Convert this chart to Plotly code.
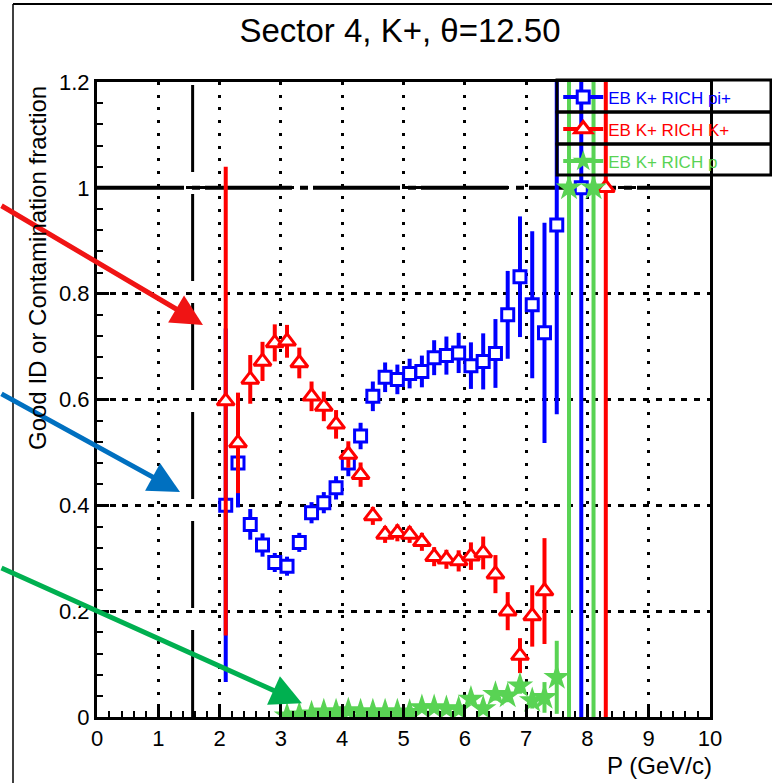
import plotly.graph_objects as go

# ---------------- data ----------------
P_GEV = [2.1, 2.3, 2.5, 2.7, 2.9, 3.1, 3.3, 3.5, 3.7, 3.9, 4.1, 4.3, 4.5, 4.7, 4.9, 5.1,
         5.3, 5.5, 5.7, 5.9, 6.1, 6.3, 6.5, 6.7, 6.9, 7.1, 7.3, 7.5, 7.7, 7.9, 8.1, 8.3]

PI_FRAC = [0.40, 0.48, 0.364, 0.325, 0.292, 0.285, 0.33, 0.386, 0.405, 0.433, 0.48, 0.531,
           0.606, 0.642, 0.638, 0.649, 0.653, 0.679, 0.683, 0.688, 0.664, 0.672, 0.687, 0.76,
           0.832, 0.779, 0.726, 0.93, None, 1.0, None, None]
PI_ERR = [0.334, 0.084, 0.029, 0.022, 0.018, 0.018, 0.018, 0.02, 0.02, 0.022, 0.025, 0.025,
          0.028, 0.028, 0.028, 0.028, 0.03, 0.033, 0.036, 0.038, 0.044, 0.053, 0.065, 0.083,
          0.114, 0.139, 0.208, 0.358, None, 1.0, None, None]

K_FRAC = [0.597, 0.518, 0.638, 0.672, 0.707, 0.71, 0.669, 0.606, 0.587, 0.553, 0.496, 0.458,
          0.38, 0.345, 0.348, 0.345, 0.331, 0.303, 0.298, 0.295, 0.304, 0.31, 0.27, 0.2,
          0.116, 0.191, 0.238, None, None, None, None, 1.0]
K_ERR = [0.443, 0.095, 0.046, 0.037, 0.035, 0.031, 0.029, 0.028, 0.028, 0.027, 0.025, 0.023,
         0.017, 0.016, 0.016, 0.016, 0.017, 0.018, 0.018, 0.02, 0.026, 0.031, 0.036, 0.036,
         0.033, 0.058, 0.1, None, None, None, None, 1.0]

PR_FRAC = [None, None, None, None, None, 0.002, 0.004, 0.006, 0.01, 0.01, 0.012, 0.01,
           0.01, 0.01, 0.01, 0.009, 0.018, 0.018, 0.016, 0.015, 0.034, 0.016, 0.043, 0.04,
           0.059, 0.031, 0.037, 0.075, 1.0, None, 1.0, None]
PR_ERR = [None, None, None, None, None, 0.004, 0.004, 0.004, 0.005, 0.005, 0.005, 0.005,
          0.005, 0.005, 0.005, 0.005, 0.006, 0.006, 0.006, 0.007, 0.01, 0.008, 0.012, 0.012,
          0.015, 0.015, 0.029, 0.069, 1.0, None, 1.0, None]

SERIES_NAMES = ["EB K+ RICH pi+", "EB K+ RICH K+", "EB K+ RICH p"]
UNITY_LEVEL = 1.0
THRESHOLD_P = 1.56
X_TICKS = list(range(0, 11))
TITLE = "Sector 4, K+, \u03b8=12.50"

# ---------------- layout constants ----------------
W, H = 772, 783
ML, MR, MT, MB = 97, 62, 82, 66
PW, PH = W - ML - MR, H - MT - MB
XR, YR = (0, 10), (0, 1.2)
FONT = "Liberation Sans, Arial, sans-serif"

BLUE, RED, GREEN = "#0000ff", "#ff0000", "#59d354"


def px_x(px):
    return (px - ML) / PW


def px_y(py):
    return (H - MB - py) / PH


fig = go.Figure()

# reference lines
fig.add_trace(go.Scatter(x=[XR[0], XR[1]], y=[UNITY_LEVEL, UNITY_LEVEL], mode="lines",
                         line=dict(color="black", width=4, dash="87px,8px,8px,5px"),
                         showlegend=False, hoverinfo="skip"))
fig.add_trace(go.Scatter(x=[THRESHOLD_P, THRESHOLD_P], y=[YR[0], YR[1]], mode="lines",
                         line=dict(color="black", width=3, dash="87px,22px"),
                         showlegend=False, hoverinfo="skip"))

STYLES = [
    (BLUE, "square", 12, "white", 3),
    (RED, "triangle-up", 15, "white", 3),
    (GREEN, "star", 20, GREEN, 0),
]


def add_series(y, err, style):
    color, symbol, size, fill, lw = style
    fig.add_trace(go.Scatter(
        x=P_GEV, y=y, mode="markers", showlegend=False,
        marker=dict(symbol=symbol, size=size, color=fill,
                    line=dict(color=color, width=lw)),
        error_y=dict(type="data", array=err, visible=True, thickness=4, width=0, color=color),
    ))


add_series(PI_FRAC, PI_ERR, STYLES[0])
add_series(K_FRAC, K_ERR, STYLES[1])
add_series(PR_FRAC, PR_ERR, STYLES[2])

# legend entries (text coloured like the series)
for name, (color, symbol, size, fill, lw) in zip(SERIES_NAMES, STYLES):
    fig.add_trace(go.Scatter(x=[None], y=[None], mode="lines+markers",
                             name=f'<span style="color:{color}">{name}</span>',
                             legendgroup=name,
                             line=dict(color=color, width=4),
                             marker=dict(symbol=symbol, size=size, color=fill,
                                         line=dict(color=color, width=lw))))

# legend boxes
LEG_X = (557, 771)
LEG_ROWS = [80, 112, 144, 175]
shapes = []
shapes.append(dict(type="rect", xref="x", yref="y", layer="between",
                   x0=px_x(LEG_X[0]) * XR[1], x1=XR[1],
                   y0=px_y(LEG_ROWS[-1]) * YR[1], y1=YR[1],
                   fillcolor="white", line=dict(width=0)))
for i in range(3):
    shapes.append(dict(type="rect", xref="paper", yref="paper", layer="above",
                       x0=px_x(LEG_X[0]), x1=px_x(LEG_X[1]),
                       y0=px_y(LEG_ROWS[i + 1]), y1=px_y(LEG_ROWS[i]),
                       line=dict(color="black", width=3)))
# canvas border lines
shapes.append(dict(type="line", xref="paper", yref="paper", layer="above",
                   x0=px_x(13), x1=px_x(W), y0=px_y(4), y1=px_y(4),
                   line=dict(color="black", width=2)))
shapes.append(dict(type="line", xref="paper", yref="paper", layer="above",
                   x0=px_x(13), x1=px_x(13), y0=px_y(4), y1=px_y(H),
                   line=dict(color="black", width=1.5)))

# arrows: tip in data coords, tail offset in px
ARROWS = [
    ("#f01414", 1.729, 0.741, -203, -120),
    ("#0070c0", 1.354, 0.425, -180, -99),
    ("#00b050", 3.344, 0.026, -302, -136),
]
annotations = []
for c, ax_x, ax_y, dx, dy in ARROWS:
    annotations.append(dict(x=ax_x, y=ax_y, xref="x", yref="y", ax=dx, ay=dy,
                            axref="pixel", ayref="pixel", text="", showarrow=True,
                            arrowhead=2, arrowsize=1.25, arrowwidth=5, arrowcolor=c))

annotations.append(dict(text="Good ID or Contamination fraction", textangle=-90,
                        xref="paper", yref="paper", x=px_x(37), y=px_y(268),
                        xanchor="center", yanchor="middle", showarrow=False,
                        font=dict(family=FONT, size=24, color="black")))
annotations.append(dict(text="P (GeV/c)", xref="paper", yref="paper", x=px_x(714),
                        y=px_y(765), xanchor="right", yanchor="middle", showarrow=False,
                        font=dict(family=FONT, size=24, color="black")))

fig.update_layout(
    width=W, height=H,
    margin=dict(l=ML, r=MR, t=MT, b=MB),
    paper_bgcolor="white", plot_bgcolor="white",
    font=dict(family=FONT, color="black"),
    title=dict(text=TITLE, x=px_x(400), xref="paper", xanchor="center",
               y=1 - 30 / H, yref="container", yanchor="middle",
               font=dict(family=FONT, size=33, color="black")),
    showlegend=True,
    legend=dict(x=px_x(LEG_X[0]) + 0.002, y=px_y(LEG_ROWS[0]) + 0.001,
                xanchor="left", yanchor="top",
                bgcolor="rgba(0,0,0,0)", borderwidth=0,
                font=dict(family=FONT, size=17), tracegroupgap=7,
                itemwidth=40, traceorder="grouped"),
    shapes=shapes, annotations=annotations,
)

fig.update_xaxes(range=list(XR), tickvals=X_TICKS, ticks="inside", ticklen=12, tickwidth=2.5,
                 tickcolor="black", showline=True, linewidth=3, linecolor="black", mirror=True,
                 showgrid=True, gridcolor="black", gridwidth=3, griddash="3px,9.7px",
                 zeroline=False, tickfont=dict(family=FONT, size=22),
                 minor=dict(dtick=0.2, ticks="inside", ticklen=6, tickwidth=2,
                            tickcolor="black", showgrid=False))
fig.update_yaxes(range=list(YR), dtick=0.2, ticks="inside", ticklen=12, tickwidth=2.5,
                 tickcolor="black", showline=True, linewidth=3, linecolor="black", mirror=True,
                 showgrid=True, gridcolor="black", gridwidth=3, griddash="6px,6.7px",
                 zeroline=False, tickfont=dict(family=FONT, size=22),
                 minor=dict(dtick=0.04, ticks="inside", ticklen=6, tickwidth=2,
                            tickcolor="black", showgrid=False))

fig.write_html("out.html")
